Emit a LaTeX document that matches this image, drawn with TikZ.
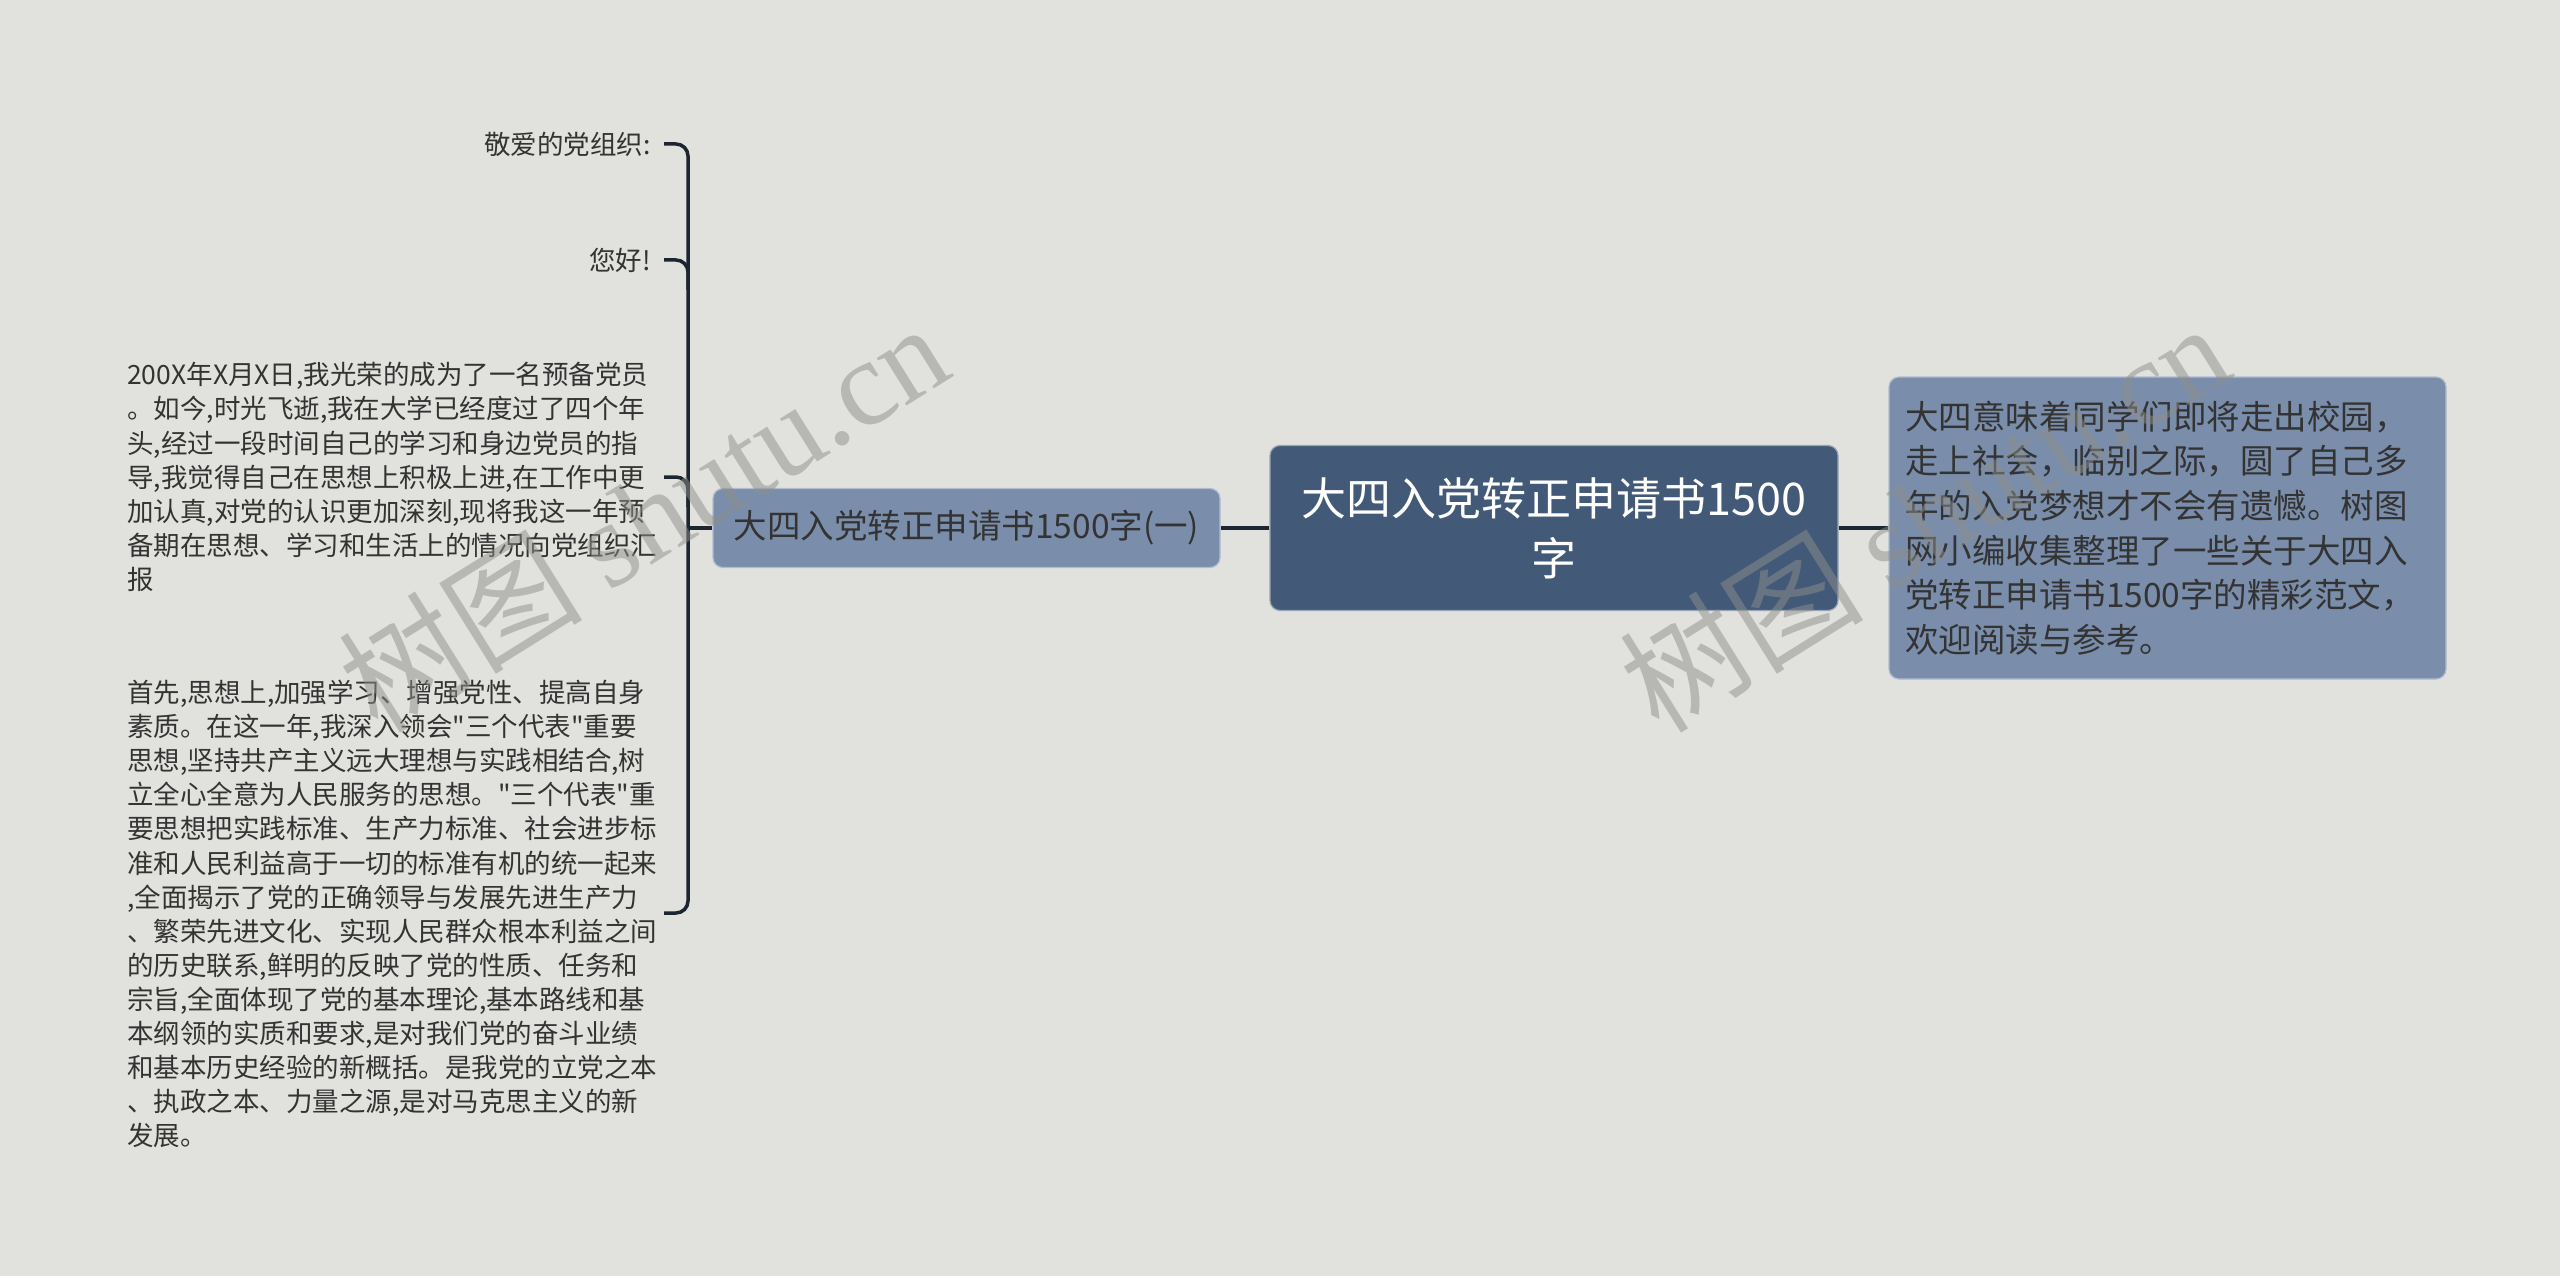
\documentclass[tikz,border=0pt]{standalone}
\usepackage{fontspec}
\setmainfont{Noto Sans CJK SC}[Ligatures=TeXOff]
\newfontfamily\wmfont{Liberation Serif}
\definecolor{bgc}{HTML}{E1E2DD}
\definecolor{maincol}{HTML}{425A78}
\definecolor{subcol}{HTML}{7A8EAB}
\definecolor{linec}{HTML}{1D2531}
\definecolor{textc}{HTML}{333333}
\definecolor{wmcol}{HTML}{8E8F8B}
\tikzset{
  mainbox/.style={rectangle, rounded corners=10, fill=maincol, draw=maincol!55!white, line width=1.2,
    text=white, font=\fontsize{45}{60}\selectfont, align=center, inner sep=0},
  subbox/.style={rectangle, rounded corners=10, fill=subcol, draw=subcol!60!white, line width=1.2,
    text=textc, font=\fontsize{33.5}{44.7}\selectfont, align=center, inner sep=0},
  leaf/.style={inner sep=0, align=left, text=textc, font=\fontsize{26.5}{34.1}\selectfont},
  conn/.style={draw=linec, line width=3.5},
  wm/.style={text=wmcol, text opacity=0.5, font=\fontsize{122}{122}\selectfont, inner sep=0}
}
\begin{document}
\begin{tikzpicture}[x=1pt,y=-1pt]
\fill[bgc] (0,0) rectangle (2560,1276);
\useasboundingbox (0,0) rectangle (2560,1276);

% main nodes
\node[mainbox, minimum width=568, minimum height=165] (main) at (1554,528) {大四入党转正申请书1500\\字};
\node[subbox, minimum width=507, minimum height=79] (sub) at (966.5,528) {大四入党转正申请书1500字(一)};
\node[subbox, align=left, minimum width=557, minimum height=302, text width=525, inner xsep=16] (desc) at (2167.5,528) {大四意味着同学们即将走出校园，\\走上社会，临别之际，圆了自己多\\年的入党梦想才不会有遗憾。树图\\网小编收集整理了一些关于大四入\\党转正申请书1500字的精彩范文，\\欢迎阅读与参考。};

% leaves
\node[leaf, anchor=east] (l1) at (651,144) {敬爱的党组织:};
\node[leaf, anchor=east] (l2) at (651,260) {您好!};
\node[leaf, anchor=west] (l3) at (127,477) {200X年X月X日,我光荣的成为了一名预备党员\\。如今,时光飞逝,我在大学已经度过了四个年\\头,经过一段时间自己的学习和身边党员的指\\导,我觉得自己在思想上积极上进,在工作中更\\加认真,对党的认识更加深刻,现将我这一年预\\备期在思想、学习和生活上的情况向党组织汇\\报};
\node[leaf, anchor=west] (l4) at (127,914) {首先,思想上,加强学习、增强党性、提高自身\\素质。在这一年,我深入领会"三个代表"重要\\思想,坚持共产主义远大理想与实践相结合,树\\立全心全意为人民服务的思想。"三个代表"重\\要思想把实践标准、生产力标准、社会进步标\\准和人民利益高于一切的标准有机的统一起来\\,全面揭示了党的正确领导与发展先进生产力\\、繁荣先进文化、实现人民群众根本利益之间\\的历史联系,鲜明的反映了党的性质、任务和\\宗旨,全面体现了党的基本理论,基本路线和基\\本纲领的实质和要求,是对我们党的奋斗业绩\\和基本历史经验的新概括。是我党的立党之本\\、执政之本、力量之源,是对马克思主义的新\\发展。};

% bracket
\coordinate (e1) at (664,144);
\coordinate (e2) at (664,260);
\coordinate (e3) at (664,477);
\coordinate (e4) at (664,913);
\coordinate (spine) at (688,528);
\draw[conn, rounded corners=12] (e1) -- ++(24,0) |- (e4);
\draw[conn, rounded corners=12] (e2) -- ++(24,0) -- ++(0,30);
\draw[conn, rounded corners=12] (e3) -- ++(24,0) -- ++(0,30);

% connectors
\draw[conn] (sub.west) -- (sub.west -| spine);
\draw[conn] (main.west) -- (sub.east);
\draw[conn] (main.east) -- (desc.west);

% watermarks (on top, translucent)
\node[wm, rotate=32] (wm1) at (643,516) {树图 {\wmfont shutu.cn}};
\node[wm, rotate=32] (wm2) at (1924,516) {树图 {\wmfont shutu.cn}};
\end{tikzpicture}
\end{document}
